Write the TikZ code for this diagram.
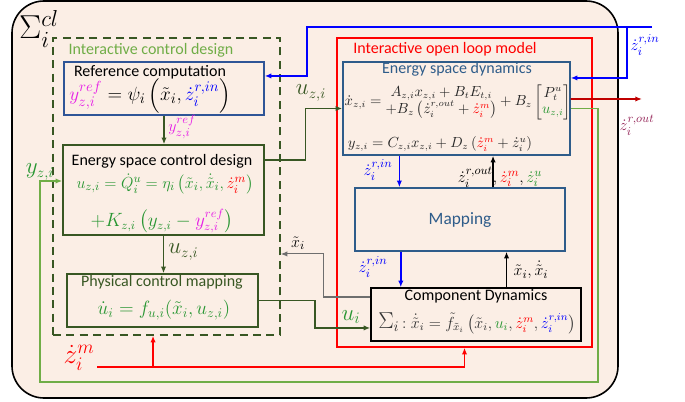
\documentclass[tikz,border=0pt]{standalone}
\usepackage{amsmath}
\usepackage{fontspec}
\setmainfont{Carlito}
\usetikzlibrary{arrows.meta,calc}

\definecolor{fondo}{RGB}{251,238,229}
\definecolor{verdeosc}{RGB}{56,87,35}
\definecolor{verdecl}{RGB}{112,173,71}
\definecolor{verdef}{RGB}{40,150,50}
\definecolor{azulgris}{RGB}{46,92,138}
\definecolor{azulref}{RGB}{47,85,151}
\definecolor{azul}{RGB}{0,0,255}
\definecolor{mag}{RGB}{230,30,230}
\definecolor{rojoosc}{RGB}{192,0,0}
\definecolor{granate}{RGB}{150,40,90}
\definecolor{gris}{RGB}{110,110,110}

\newcommand{\rj}[1]{\textcolor{red}{#1}}
\newcommand{\vf}[1]{\textcolor{verdef}{#1}}
\newcommand{\az}[1]{\textcolor{azul}{#1}}
\newcommand{\mgt}[1]{\textcolor{mag}{#1}}

\begin{document}
\begin{tikzpicture}[x=0.75pt, y=-0.75pt,
    caja/.style={draw, line width=1.1pt, inner sep=0pt},
    tit/.style={font=\fontsize{12}{14}\selectfont, inner sep=0pt},
    ec/.style={font=\fontsize{12.8}{15}\selectfont, inner sep=0pt},
    lab/.style={font=\fontsize{13}{15}\selectfont, inner sep=0pt},
    punta/.style={-{Latex[length=5pt,width=4pt]}}]

    \useasboundingbox (0,0) rectangle (685,402);

    % Caja exterior (lazo cerrado)
    \node[draw, line width=1.2pt, fill=fondo, rounded corners=24pt,
          minimum width=454.5pt, minimum height=297.75pt] (lazo) at (315,199.5) {};
    \node[font=\fontsize{23}{23}\selectfont, inner sep=0pt] (sigcl) at (39,29) {$\Sigma_i^{cl}$};

    % Diseño de control (caja discontinua) y modelo en lazo abierto (caja roja)
    \node[draw=verdeosc, line width=1.1pt, dash pattern=on 6pt off 4pt,
          minimum width=170.25pt, minimum height=222.75pt] (ctrl) at (166.5,186.5) {};
    \node[tit, text=verdecl] (ctrlt) at (151,50) {Interactive control design};
    \node[draw=red, line width=1.1pt,
          minimum width=191.25pt, minimum height=231.75pt] (olm) at (464.5,192.5) {};
    \node[tit, text=red] (olmt) at (445,49) {Interactive open loop model};

    % Bloques
    \node[caja, draw=azulref, minimum width=150pt, minimum height=39.75pt] (ref) at (164,88.5) {};
    \node[caja, draw=verdeosc, minimum width=150.75pt, minimum height=67.5pt] (escd) at (163.5,190) {};
    \node[caja, draw=verdeosc, minimum width=143.25pt, minimum height=39.75pt] (pcm) at (162.5,300.5) {};
    \node[caja, draw=azulgris, minimum width=170.25pt, minimum height=69.75pt] (esd) at (456.5,108.5) {};
    \node[caja, draw=azulgris, minimum width=157.5pt, minimum height=47.25pt] (map) at (460,219.5) {};
    \node[caja, draw=black, minimum width=157.5pt, minimum height=39.75pt] (cd) at (476,314.5) {};

    % Textos de los bloques
    \node[tit] (reft) at (150,72) {Reference computation};
    \node[ec, font=\fontsize{15}{17}\selectfont] (refe) at (150,96)
        {$\mgt{y_{z,i}^{ref}}=\psi_i\left(\tilde x_i,\az{\dot z_i^{r,in}}\right)$};
    \node[tit] (escdt) at (162,161) {Energy space control design};
    \node[ec, text=verdef] (escde1) at (165,184)
        {$u_{z,i}=\dot Q_i^u=\eta_i\left(\tilde x_i,\dot{\tilde x}_i,\rj{\dot z_i^m}\right)$};
    \node[ec, font=\fontsize{13.5}{15}\selectfont, text=verdef] (escde2) at (162,221)
        {$+K_{z,i}\left(y_{z,i}-\mgt{y_{z,i}^{ref}}\right)$};
    \node[tit, text=verdeosc] (pcmt) at (162,282) {Physical control mapping};
    \node[ec, font=\fontsize{14}{16}\selectfont, text=verdef] (pcme) at (164,310) {$\dot u_i=f_{u,i}(\tilde x_i,u_{z,i})$};
    \node[tit, text=azulgris] (esdt) at (457,69) {Energy space dynamics};
    \node[font=\fontsize{10.5}{12}\selectfont, inner sep=0pt, text=black!85] (esde1) at (458,102)
        {$\dot x_{z,i}=\begin{array}{@{}c@{}}A_{z,i}x_{z,i}+B_tE_{t,i}\\
          +B_z\left(\dot z_i^{r,out}+\rj{\dot z_i^m}\right)\end{array}
          +B_z\begin{bmatrix}P_t^u\\ \vf{u_{z,i}}\end{bmatrix}$};
    \node[font=\fontsize{10.5}{12}\selectfont, inner sep=0pt, text=black!85] (esde2) at (440,144)
        {$y_{z,i}=C_{z,i}x_{z,i}+D_z\left(\rj{\dot z_i^m}+\dot z_i^u\right)$};
    \node[font=\fontsize{13}{15}\selectfont, text=azulgris] (mapt) at (460,220) {Mapping};
    \node[tit] (cdt) at (476,296) {Component Dynamics};
    \node[ec, font=\fontsize{11.5}{13}\selectfont, text=black!80] (cde) at (477,323)
        {{\fontsize{16}{16}\selectfont$\Sigma_i$}$\,:\dot{\tilde x}_i=\tilde f_{\tilde x_i}
         \left(\tilde x_i,\vf{u_i},\rj{\dot z_i^m},\az{\dot z_i^{r,in}}\right)$};

    % Entrada azul z^{r,in}
    \coordinate (zin) at (652,27);
    \coordinate (zbr) at (627,27);
    \draw[azul, line width=1.2pt, punta] (zin) -- (307,27) |- ([yshift=9.4pt]ref.east);
    \draw[azul, line width=1.2pt, punta] (zbr) |- ([yshift=22.9pt]esd.east);
    \node[lab, text=azul] (zinl) at (645,45) {$\dot z_i^{r,in}$};

    % Salida z^{r,out}
    \coordinate (zout) at (642,99);
    \draw[rojoosc, line width=1.2pt, punta] ([yshift=7.1pt]esd.east) -- (zout);
    \node[lab, text=granate] (zoutl) at (637,125) {$\dot z_i^{r,out}$};

    % Realimentacion y_{z,i}
    \coordinate (yr) at (598,382);
    \coordinate (yl) at (40,382);
    \draw[verdecl, line width=1.2pt, punta] (esd.east) -| (yr) -- (yl) |- ([yshift=6.75pt]escd.west);
    \node[font=\fontsize{16}{16}\selectfont, inner sep=0pt, text=verdef] (ylab) at (40,172) {$y_{z,i}$};

    % Flechas del control
    \draw[verdeosc, line width=1.1pt, punta] (ref.south) -- (ref.south |- escd.north);
    \node[lab, text=mag, anchor=west] (yrefl) at (168,127) {$y_{z,i}^{ref}$};
    \draw[verdeosc, line width=1.1pt, punta] (escd.south) -- (escd.south |- pcm.north);
    \node[font=\fontsize{16}{16}\selectfont, inner sep=0pt, text=verdeosc, anchor=west] (uzl2) at (168,252) {$u_{z,i}$};
    \draw[verdeosc, line width=1.1pt, punta] ([yshift=22.5pt]escd.east) -- ++(41,0) |- (esd.west);
    \node[font=\fontsize{16}{16}\selectfont, inner sep=0pt, text=verdeosc] (uzl) at (311,93) {$u_{z,i}$};
    \draw[verdeosc, line width=1.4pt, punta] (pcm.east) -- ++(56,0) |- ([yshift=-10.1pt]cd.west);
    \node[font=\fontsize{18}{18}\selectfont, inner sep=0pt, text=verdef] (uil) at (351,317) {$u_i$};

    % Estado medido hacia el control
    \draw[gris, line width=0.8pt, punta] ([yshift=13.1pt]cd.west) -- ++(-47,0) |- ([yshift=-50.6pt]ctrl.east);
    \node[lab, inner sep=0pt] (xtl) at (298,243) {$\tilde x_i$};

    % Perturbacion z^m
    \coordinate (zm) at (97,367);
    \path ([xshift=-10.1pt]ctrl.south) coordinate (zmb);
    \draw[red, line width=1.2pt, punta] (zm) -| (olm.south);
    \draw[red, line width=1.2pt, punta] (zmb |- zm) -- (zmb);
    \node[font=\fontsize{20}{20}\selectfont, inner sep=0pt, text=red] (zml) at (79,358) {$\dot z_i^m$};

    % Flechas internas del modelo
    \path ($(esd.south west)!0.25!(esd.south east)$) coordinate (a1)
          ($(esd.south west)!0.66!(esd.south east)$) coordinate (a2)
          ($(map.south west)!0.22!(map.south east)$) coordinate (b1)
          ($(map.south west)!0.72!(map.south east)$) coordinate (b2);
    \draw[azul, line width=1.2pt, punta] (a1) -- (a1 |- map.north);
    \draw[line width=1.1pt, punta] (a2 |- map.north) -- (a2);
    \draw[azul, line width=1.2pt, punta] (b1) -- (b1 |- cd.north);
    \draw[line width=1.1pt, punta] (b2 |- cd.north) -- (b2);
    \node[lab, text=azul] (l1) at (378,170) {$\dot z_i^{r,in}$};
    \node[lab] (l2) at (500,177) {$\dot z_i^{r,out},\rj{\dot z_i^m},\vf{\dot z_i^u}$};
    \node[lab, text=azul] (l3) at (373,267) {$\dot z_i^{r,in}$};
    \node[lab] (l4) at (531,270) {$\tilde x_i,\dot{\tilde x}_i$};
\end{tikzpicture}
\end{document}
